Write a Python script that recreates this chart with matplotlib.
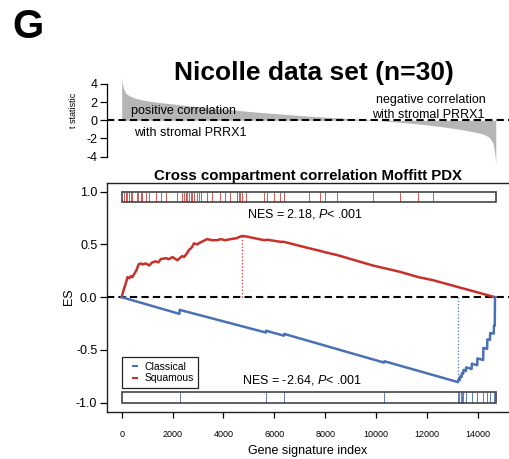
import matplotlib
matplotlib.use('Agg')
import matplotlib.pyplot as plt
from matplotlib.patches import Rectangle
from matplotlib.lines import Line2D

plt.rcParams['font.family'] = ['Liberation Sans', 'DejaVu Sans']
plt.rcParams['axes.unicode_minus'] = False
plt.rcParams['mathtext.fontset'] = 'custom'
plt.rcParams['mathtext.rm'] = 'Liberation Sans'
plt.rcParams['mathtext.it'] = 'Liberation Sans:italic'

# ranked t statistics (top panel)
t_index = [0, 20, 60, 150, 300, 500, 800, 1100, 1500, 2000, 2600, 3200, 4000,
           4700, 5500, 6300, 7000, 7800, 8600, 9400, 10000, 10600, 11300,
           12000, 12700, 13300, 13800, 14200, 14450, 14600, 14680, 14710]
t_stat = [4.8, 4.1, 3.6, 3.0, 2.7, 2.45, 2.25, 2.1, 1.95, 1.8, 1.6, 1.45, 1.25,
          1.05, 0.85, 0.68, 0.52, 0.38, 0.25, 0.12, 0.0, -0.15, -0.3,
          -0.5, -0.75, -1.0, -1.25, -1.5, -1.85, -2.5, -3.8, -5.0]

# running enrichment score, Squamous
sq_index = [0, 90, 160, 230, 300, 360, 420, 590, 660, 750, 810, 950, 1080,
            1200, 1330, 1450, 1530, 1730, 1850, 2000, 2190, 2280, 2380, 2450,
            2580, 2650, 2710, 2780, 2840, 2970, 3100, 3360, 3560, 3750, 3890,
            4080, 4280, 4540, 4610, 4740, 4910, 5200, 5610, 5720, 5980, 6240,
            6370, 7350, 7790, 8010, 8460, 9880, 10950, 11670, 12260, 14680]
sq_es = [0.0, 0.08, 0.13, 0.19, 0.18, 0.20, 0.19, 0.26, 0.31, 0.32, 0.31,
         0.32, 0.30, 0.33, 0.34, 0.33, 0.36, 0.37, 0.36, 0.38, 0.35, 0.37,
         0.39, 0.38, 0.42, 0.45, 0.46, 0.48, 0.51, 0.50, 0.52, 0.55, 0.54,
         0.54, 0.55, 0.54, 0.55, 0.56, 0.57, 0.58, 0.575, 0.56, 0.54, 0.545,
         0.535, 0.525, 0.525, 0.465, 0.44, 0.425, 0.40, 0.30, 0.24, 0.19,
         0.16, 0.0]

# running enrichment score, Classical
cl_index = [0, 2270, 2280, 5670, 5680, 6380, 6390, 10320, 10330, 13230, 13240,
            13300, 13310, 13370, 13380, 13430, 13440, 13530, 13545, 13760,
            13770, 13980, 13990, 14215, 14225, 14370, 14380, 14480, 14490,
            14630, 14640, 14670, 14680]
cl_es = [0.0, -0.158, -0.12, -0.335, -0.318, -0.365, -0.348, -0.62, -0.607,
         -0.805, -0.78, -0.784, -0.75, -0.754, -0.72, -0.724, -0.69, -0.70,
         -0.665, -0.68, -0.63, -0.645, -0.58, -0.595, -0.48, -0.49, -0.40,
         -0.405, -0.34, -0.345, -0.27, -0.27, 0.0]

sq_hits = [91, 157, 223, 288, 353, 419, 589, 654, 746, 811, 942, 1073, 1334,
           1530, 1727, 2185, 2381, 2446, 2512, 2577, 2643, 2708, 2773, 2839,
           2970, 3035, 3100, 3362, 3558, 3885, 4082, 4278, 4540, 4605, 4670,
           4736, 4906, 5612, 5717, 5979, 6240, 6371, 7353, 7785, 8006, 8464,
           9877, 10950, 11668, 12257]
cl_hits = [2276, 5678, 6384, 10322, 13238, 13277, 13332, 13383, 13434, 13540,
           13763, 13983, 14219, 14376, 14482, 14639]

sq_peak = (4736, 0.58)
cl_peak = (13240, -0.805)
n_genes = 14700

red = '#C8302A'
blue = '#4A70B5'

fig = plt.figure(figsize=(5.09, 4.59), dpi=100)
xlim = (-578, 15663)

# top panel: t statistics
ax_t = fig.add_axes([0.2102, 0.6192, 0.8114, 0.2375], facecolor='none')
ax_t.fill_between(t_index, t_stat, 0, color='#b5b5b5', lw=0)
ax_t.axhline(0, color='black', lw=1.5, ls=(0, (3.5, 2)))
ax_t.set_xlim(*xlim)
ax_t.set_ylim(-6, 6)
for s in ['top', 'right', 'bottom']:
    ax_t.spines[s].set_visible(False)
ax_t.spines['left'].set_bounds(-4, 4)
ax_t.spines['left'].set_linewidth(0.9)
ax_t.set_xticks([])
ax_t.set_yticks([-4, -2, 0, 2, 4])
ax_t.tick_params(axis='y', length=5, width=0.9, labelsize=9, pad=2)
ax_t.text(2433, 0.99, 'positive correlation', ha='center', va='center', fontsize=9)
ax_t.text(2708, -1.43, 'with stromal PRRX1', ha='center', va='center', fontsize=9)
ax_t.text(12160, 2.2, 'negative correlation', ha='center', va='center', fontsize=9)
ax_t.text(12062, 0.63, 'with stromal PRRX1', ha='center', va='center', fontsize=9)

# bottom panel: enrichment
ax = fig.add_axes([0.2102, 0.1031, 0.8114, 0.4983], facecolor='none')
ax.plot(sq_index, sq_es, color=red, lw=1.8, zorder=4)
ax.plot(cl_index, cl_es, color=blue, lw=1.8, zorder=4)
ax.axhline(0, color='black', lw=1.5, ls=(0, (3.5, 2)), zorder=3)
ax.plot([sq_peak[0]] * 2, [0, sq_peak[1]], color=red, lw=0.9, ls=':')
ax.plot([cl_peak[0]] * 2, [0, cl_peak[1]], color=blue, lw=0.9, ls=':')

ax.vlines(sq_hits, 0.9, 1.0, color=red, lw=0.7, alpha=0.8)
ax.vlines(cl_hits, -1.0, -0.9, color=blue, lw=0.7, alpha=0.9)
ax.add_patch(Rectangle((0, 0.9), n_genes, 0.1, fill=False, ec='#444444', lw=1.2, zorder=5))
ax.add_patch(Rectangle((0, -1.0), n_genes, 0.1, fill=False, ec='#444444', lw=1.2, zorder=5))

ax.text(7222, 0.793, 'NES = 2.18, $P$< .001', ha='center', va='center', fontsize=9)
ax.text(7090, -0.787, 'NES = -2.64, $P$< .001', ha='center', va='center', fontsize=9)

ax.set_xlim(*xlim)
ax.set_ylim(-1.085, 1.0825)
ax.spines['right'].set_visible(False)
for s in ['top', 'bottom', 'left']:
    ax.spines[s].set_linewidth(1.0)
    ax.spines[s].set_color('#222222')
ax.set_xticks(range(0, 14001, 2000))
ax.set_yticks([-1.0, -0.5, 0.0, 0.5, 1.0])
ax.set_yticklabels(['-1.0', '-0.5', '0.0', '0.5', '1.0'])
ax.tick_params(axis='x', length=4, width=0.9, labelsize=6.5, pad=9)
ax.tick_params(axis='y', length=5, width=0.9, labelsize=9, pad=2)

handles = [Line2D([], [], color=blue, marker='_', ls='none', markersize=5, markeredgewidth=1.5),
           Line2D([], [], color=red, marker='_', ls='none', markersize=5, markeredgewidth=1.5)]
leg = ax.legend(handles, ['Classical', 'Squamous'], loc='upper left',
                bbox_to_anchor=(0, -0.566), bbox_transform=ax.transData,
                borderaxespad=0, fontsize=7.5, fancybox=False, framealpha=1,
                edgecolor='#222222', borderpad=0.45, handlelength=1.6,
                handletextpad=0.1, labelspacing=0.15)
leg.get_frame().set_linewidth(0.9)

# titles and labels
fig.text(0.024, 1 - 27.5 / 459, 'G', fontsize=29, fontweight='bold', ha='left', va='center')
fig.text(314 / 509, 1 - 73 / 459, 'Nicolle data set (n=30)', fontsize=19,
         fontweight='bold', ha='center', va='center')
fig.text(308 / 509, 1 - 175.7 / 459, 'Cross compartment correlation Moffitt PDX',
         fontsize=10.8, fontweight='bold', ha='center', va='center')
fig.text(73 / 509, 1 - 110 / 459, 't statistic', rotation=90, fontsize=6.5,
         ha='center', va='center')
fig.text(69 / 509, 1 - 297 / 459, 'ES', rotation=90, fontsize=9, ha='center', va='center')
fig.text(308 / 509, 1 - 450.7 / 459, 'Gene signature index', fontsize=9,
         ha='center', va='center')

fig.savefig('out.png', dpi=100)
